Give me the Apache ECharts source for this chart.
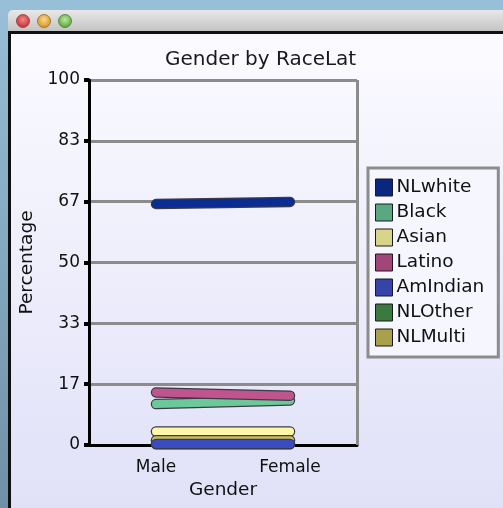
<!DOCTYPE html>
<html><head><meta charset="utf-8">
<script src="https://cdn.jsdelivr.net/npm/echarts@6/dist/echarts.min.js"></script>
<style>html,body{margin:0;padding:0;background:#8fb4cc}#c{width:503px;height:508px}</style>
</head><body><div id="c"></div>
<script>
// ---- data ----
var categories = ['Male', 'Female'];
var seriesNames = ['NLwhite', 'Black', 'Asian', 'Latino', 'AmIndian', 'NLOther', 'NLMulti'];
var NLwhite = [66.0, 66.6];
var Black = [11.2, 12.2];
var Asian = [3.7, 3.7];
var Latino = [14.4, 13.5];
var AmIndian = [0.3, 0.3];
var NLOther = [0.2, 0.2];
var NLMulti = [1.3, 1.3];
var yTicks = [0, 17, 33, 50, 67, 83, 100];

var values = {NLwhite: NLwhite, Black: Black, Asian: Asian, Latino: Latino, AmIndian: AmIndian, NLOther: NLOther, NLMulti: NLMulti};
var legendColors = {NLwhite:'#0a2680', Black:'#5aa882', Asian:'#d8d48a', Latino:'#a0467a', AmIndian:'#3444a8', NLOther:'#3a7a40', NLMulti:'#a8a04c'};
var lineColors = {NLwhite:'#0a2d94', Black:'#6cc898', Asian:'#fff6a8', Latino:'#c0558e', AmIndian:'#3a4cc0', NLOther:'#3a8a44', NLMulti:'#c8c060'};
var drawOrder = ['NLwhite', 'Black', 'Latino', 'Asian', 'NLOther', 'NLMulti', 'AmIndian'];

var series = [];
drawOrder.forEach(function (n) {
  series.push({type:'line', name:'_' + n, data: values[n], showSymbol:false, silent:true,
    lineStyle:{width:10.5, color:'#3a3a4a', cap:'round'}, animation:false, clip:true});
  series.push({type:'line', name:n, data: values[n], showSymbol:false,
    itemStyle:{color: legendColors[n]},
    lineStyle:{width:8, color: lineColors[n], cap:'round'}, animation:false, clip:true});
});

var chart = echarts.init(document.getElementById('c'));
var FONT = 'DejaVu Sans';
chart.setOption({
  backgroundColor: 'transparent',
  textStyle: {fontFamily: FONT},
  graphic: [
    {type:'rect', z:-10, shape:{x:0,y:0,width:503,height:508},
      style:{fill:{type:'linear',x:0,y:0,x2:0,y2:1,colorStops:[{offset:0,color:'#98c0d8'},{offset:1,color:'#6f90a6'}]}}},
    {type:'rect', z:-9, shape:{x:8,y:10,width:500,height:30,r:[5,5,0,0]},
      style:{fill:{type:'linear',x:0,y:0,x2:0,y2:1,colorStops:[{offset:0,color:'#e8e8e8'},{offset:1,color:'#b4b4b4'}]}}},
    {type:'rect', z:-9, shape:{x:8,y:31,width:500,height:480}, style:{fill:'#101010'}},
    {type:'rect', z:-8, shape:{x:11,y:34,width:495,height:480},
      style:{fill:{type:'linear',x:0,y:0,x2:0,y2:1,colorStops:[{offset:0,color:'#fbfbff'},{offset:1,color:'#e0e0f8'}]}}},
    {type:'circle', z:-7, shape:{cx:23,cy:21,r:6.5}, style:{fill:{type:'radial',x:0.5,y:0.4,r:0.6,colorStops:[{offset:0,color:'#f08a8a'},{offset:1,color:'#c8282c'}]}, stroke:'#8a3a3a', lineWidth:0.8}},
    {type:'circle', z:-7, shape:{cx:44,cy:21,r:6.5}, style:{fill:{type:'radial',x:0.5,y:0.4,r:0.6,colorStops:[{offset:0,color:'#f8d890'},{offset:1,color:'#d89018'}]}, stroke:'#8a6a2a', lineWidth:0.8}},
    {type:'circle', z:-7, shape:{cx:65,cy:21,r:6.5}, style:{fill:{type:'radial',x:0.5,y:0.4,r:0.6,colorStops:[{offset:0,color:'#c0e8a0'},{offset:1,color:'#58a030'}]}, stroke:'#4a7a3a', lineWidth:0.8}}
  ],
  title: {text:'Gender by RaceLat', left:160, top:45,
    textStyle:{fontFamily:FONT, fontSize:20, fontWeight:'normal', color:'#1a1a1a'}},
  legend: {
    orient:'vertical', left:368, top:168,
    data: seriesNames.map(function (n) { return {name:n, itemStyle:{color:legendColors[n], borderColor:'#1a1a1a', borderWidth:1}}; }),
    icon:'rect', itemWidth:17, itemHeight:17, itemGap:6,
    padding:[10,14,10,7],
    borderColor:'#8c8c8c', borderWidth:3, backgroundColor:'#f6f6ff',
    textStyle:{fontFamily:FONT, fontSize:18.5, lineHeight:18, color:'#111', padding:[0,0,0,-1]},
    selectedMode:false
  },
  grid: {left:89, right:146, top:80, bottom:63, show:true, borderColor:'#8c8c8c', borderWidth:0},
  xAxis: {type:'category', data:categories, boundaryGap:true,
    name:'Gender', nameLocation:'middle', nameGap:36,
    nameTextStyle:{fontFamily:FONT, fontSize:18.5, color:'#111'},
    axisLine:{lineStyle:{color:'#000', width:3}},
    axisTick:{alignWithLabel:true, length:6, lineStyle:{color:'#000', width:4}},
    axisLabel:{fontFamily:FONT, fontSize:17, color:'#111', margin:14},
    splitLine:{show:false}
  },
  yAxis: {type:'value', min:0, max:100, interval:100/6,
    name:'Percentage', nameLocation:'middle', nameGap:52,
    nameTextStyle:{fontFamily:FONT, fontSize:18.5, color:'#111'},
    axisLine:{show:true, lineStyle:{color:'#000', width:3}},
    axisTick:{show:true, length:5, lineStyle:{color:'#000', width:4}},
    axisLabel:{fontFamily:FONT, fontSize:17, color:'#111', margin:9,
      formatter:function (v) { var r = Math.round(v); return yTicks.indexOf(r) >= 0 ? String(r) : ''; }},
    splitLine:{show:true, lineStyle:{color:'#8c8c8c', width:3}}
  },
  series: series.concat([{type:'line', name:'_frame', data:[], silent:true,
    markLine:{silent:true, symbol:'none', animation:false, lineStyle:{color:'#8c8c8c', width:3, type:'solid'}, label:{show:false},
      data:[[{x:357, y:80}, {x:357, y:445}]]}}])
});
</script></body></html>
